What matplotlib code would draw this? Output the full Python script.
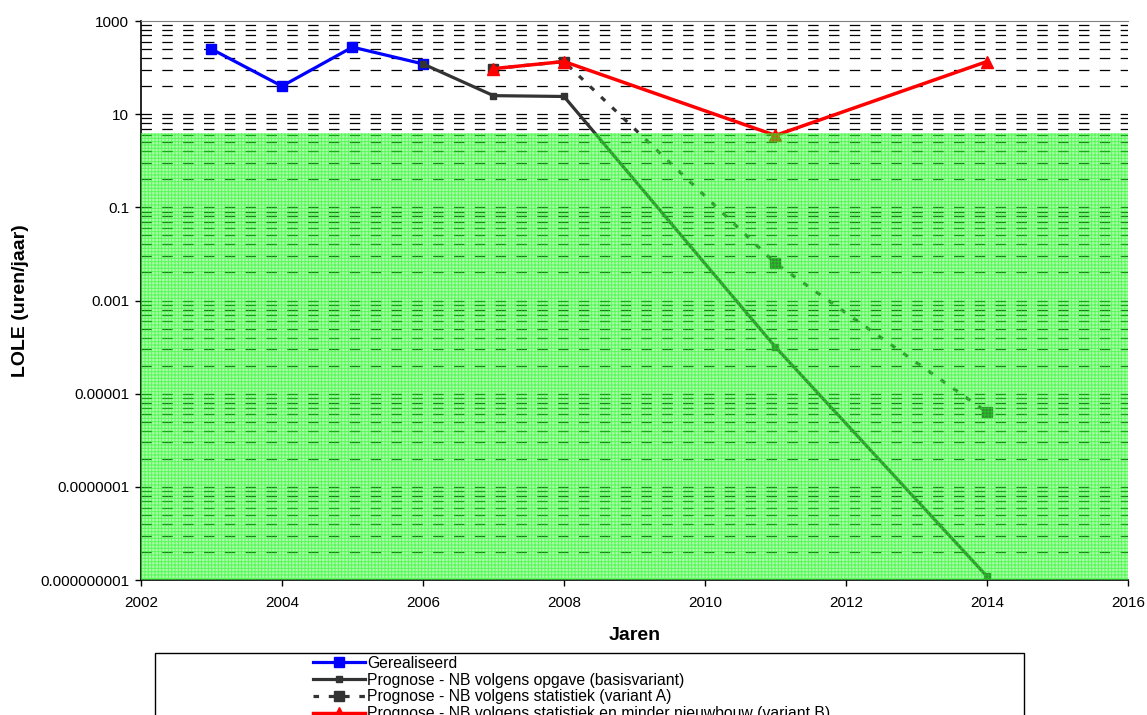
import matplotlib.pyplot as plt
from matplotlib.patches import Rectangle

plt.rcParams['font.family'] = ['Liberation Sans', 'DejaVu Sans']
plt.rcParams['lines.scale_dashes'] = False
plt.rcParams['hatch.linewidth'] = 0.7

# LOLE per jaar (uren/jaar)
jaren_gerealiseerd = [2003, 2004, 2005, 2006]
lole_gerealiseerd = [250, 40, 275, 120]

jaren_basis = [2006, 2007, 2008, 2011, 2014]
lole_basis = [120, 25, 24, 1e-4, 1.2e-9]

jaren_variant_a = [2007, 2008, 2011, 2014]
lole_variant_a = [95, 135, 6.3e-3, 4e-6]

jaren_variant_b = [2007, 2008, 2011, 2014]
lole_variant_b = [95, 135, 3.5, 135]

norm_lole = 4  # bovengrens groene zone

x_ticks = [2002, 2004, 2006, 2008, 2010, 2012, 2014, 2016]
y_ticks = [1e-9, 1e-7, 1e-5, 1e-3, 1e-1, 10, 1000]
y_labels = ["0.000000001", "0.0000001", "0.00001", "0.001", "0.1", "10", "1000"]

labels = ["Gerealiseerd",
          "Prognose - NB volgens opgave (basisvariant)",
          "Prognose - NB volgens statistiek (variant A)",
          "Prognose - NB volgens statistiek en minder nieuwbouw (variant B)"]

fig = plt.figure(figsize=(11.47, 7.15), dpi=100)
ax = fig.add_axes([0.1229, 0.1888, 0.8605, 0.7818])

# log-as met basis 100: hulplijnen op major * k^2
minor = [m * k ** 2 for m in y_ticks[:-1] for k in range(2, 10)]
ax.set_yscale('log')
ax.set_ylim(1e-9, 1000)
ax.set_xlim(2002, 2016)
ax.set_yticks(y_ticks)
ax.set_yticklabels(y_labels)
ax.set_yticks(minor, minor=True)
ax.set_yticklabels([], minor=True)
ax.set_xticks(x_ticks)
ax.set_xticklabels([str(x) for x in x_ticks])

for y in minor + y_ticks[1:-1]:
    ax.axhline(y, color='black', lw=0.9, dashes=(7.5, 7.5), zorder=1)

ax.tick_params(axis='y', which='major', direction='out', length=4.5, width=1,
               labelsize=11, pad=4)
ax.tick_params(axis='y', which='minor', length=0)
ax.tick_params(axis='x', direction='out', length=4.5, width=1, labelsize=11, pad=7)

ax.spines['right'].set_visible(False)
ax.spines['top'].set_color('#808080')
ax.spines['left'].set_linewidth(1.2)
ax.spines['bottom'].set_linewidth(1.2)

ax.plot(jaren_gerealiseerd, lole_gerealiseerd, color='#0000ff', lw=2.3,
        marker='s', ms=6.5, zorder=3, label=labels[0])
ax.plot(jaren_basis, lole_basis, color='#333333', lw=2.3,
        marker='s', ms=5, zorder=3.2, label=labels[1])
ax.plot(jaren_variant_a, lole_variant_a, color='#333333', lw=2.3, dashes=(4, 7),
        marker='s', ms=6.5, zorder=3.1, label=labels[2])
ax.plot(jaren_variant_b, lole_variant_b, color='#ff0000', lw=2.5,
        marker='^', ms=9, zorder=3.3, label=labels[3])

# groene zone over de lijnen heen
ax.fill_between([2002, 2016], 1e-9, norm_lole, facecolor=(0.3, 0.95, 0.3, 0.45),
                edgecolor=(0.0, 1.0, 0.0, 0.5), hatch='+++++', linewidth=0, zorder=6)

ax.set_xlabel("Jaren", fontsize=14, fontweight='bold', labelpad=12)
ax.set_ylabel("LOLE (uren/jaar)", fontsize=14, fontweight='bold', labelpad=8)

fig.patches.append(Rectangle((0.1351, -0.05), 0.7576, 0.1367, transform=fig.transFigure,
                             facecolor='white', edgecolor='black', lw=1))
handles, _ = ax.get_legend_handles_labels()
fig.legend(handles, labels, loc='upper left', bbox_to_anchor=(0.2729, 0.083),
           frameon=False, fontsize=11.3, handlelength=3.3, handletextpad=0.15,
           labelspacing=0.12, borderpad=0, borderaxespad=0)

fig.savefig("out.png", dpi=100)
